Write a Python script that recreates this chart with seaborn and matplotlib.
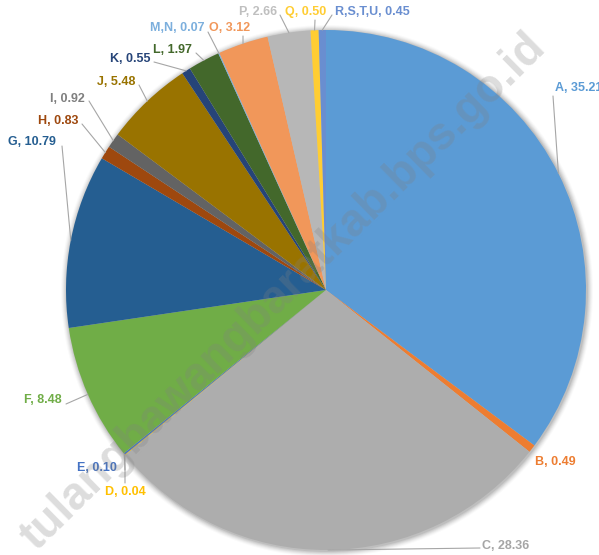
import numpy as np
import matplotlib
matplotlib.use("Agg")
import matplotlib.pyplot as plt
import seaborn as sns

# data
categories = ["A", "B", "C", "D", "E", "F", "G", "H", "I", "J",
              "K", "L", "M,N", "O", "P", "Q", "R,S,T,U"]
values = [35.21, 0.49, 28.36, 0.04, 0.10, 8.48, 10.79, 0.83, 0.92, 5.48,
          0.55, 1.97, 0.07, 3.12, 2.66, 0.50, 0.45]
colors = ["#5B9BD5", "#ED7D31", "#ADADAD", "#FFC000", "#4472C4", "#70AD47",
          "#255E91", "#9E480E", "#636363", "#997300", "#264478", "#43682B",
          "#7CAFDD", "#F1975A", "#B7B7B7", "#FFCD33", "#698ED0"]
label_colors = colors.copy()
label_colors[8] = "#7F7F7F"
label_colors[14] = "#BFBFBF"
label_colors[2] = "#A5A5A5"

# label layout in pixel coords (x, y from top), horizontal alignment
label_pos = {
    "A": (555, 88, "left"), "B": (535, 462, "left"), "C": (482, 546, "left"),
    "D": (125, 492, "center"), "E": (97, 468, "center"), "F": (62, 400, "right"),
    "G": (56, 142, "right"), "H": (78, 121, "right"), "I": (85, 99, "right"),
    "J": (135, 82, "right"), "K": (150, 59, "right"), "L": (192, 50, "right"),
    "M,N": (205, 28, "right"), "O": (250, 28, "right"), "P": (277, 12, "right"),
    "Q": (306, 12, "center"), "R,S,T,U": (335, 12, "left"),
}
# leader start points (pixel)
leader_start = {
    "A": (553, 96), "C": (480, 548), "D": (125, 483), "E": (125, 470),
    "F": (66, 404), "G": (62, 146), "H": (82, 124), "I": (89, 101),
    "J": (139, 85), "K": (154, 62), "L": (196, 53), "M,N": (208, 32),
    "O": (243, 36), "P": (280, 15), "Q": (315, 20), "R,S,T,U": (332, 15),
}

W, H = 599, 555
cx, cy, r = 326, H - 290, 260

sns.set_theme(style="white")
plt.rcParams["font.family"] = ["Liberation Sans", "DejaVu Sans"]

fig = plt.figure(figsize=(W / 100, H / 100), dpi=100)
ax = fig.add_axes([0, 0, 1, 1])

# soft shadow
for i, a in zip(range(6, 0, -1), [0.02, 0.03, 0.04, 0.05, 0.06, 0.08]):
    ax.add_patch(plt.Circle((cx + 1, cy - 1), r + i, color="black", alpha=a, lw=0))

wedges, _ = ax.pie(values, colors=colors, startangle=90, counterclock=False,
                   center=(cx, cy), radius=r, wedgeprops=dict(linewidth=0),
                   frame=True)
ax.set_xlim(0, W)
ax.set_ylim(0, H)
ax.set_aspect("equal")
ax.axis("off")

total = sum(values)
cum = np.cumsum([0] + values[:-1])
for name, v, c0, col in zip(categories, values, cum, label_colors):
    mid = np.deg2rad(90 - 360 * (c0 + v / 2) / total)
    ex, ey = cx + r * np.cos(mid), cy + r * np.sin(mid)
    tx, ty, ha = label_pos[name]
    ax.text(tx, H - ty, f"{name}, {v:.2f}", color=col, fontsize=9,
            fontweight="bold", ha=ha, va="center")
    if name in leader_start:
        sx, sy = leader_start[name]
        ax.plot([sx, ex], [H - sy, ey], color="#A6A6A6", lw=0.8)

# watermark
ax.text(284, H - 292, "tulangbawangbaratkab.bps.go.id", rotation=44.5,
        rotation_mode="anchor", ha="center", va="center", fontsize=33,
        fontweight="bold", color="#808080", alpha=0.27)

fig.savefig("out.png", dpi=100)
